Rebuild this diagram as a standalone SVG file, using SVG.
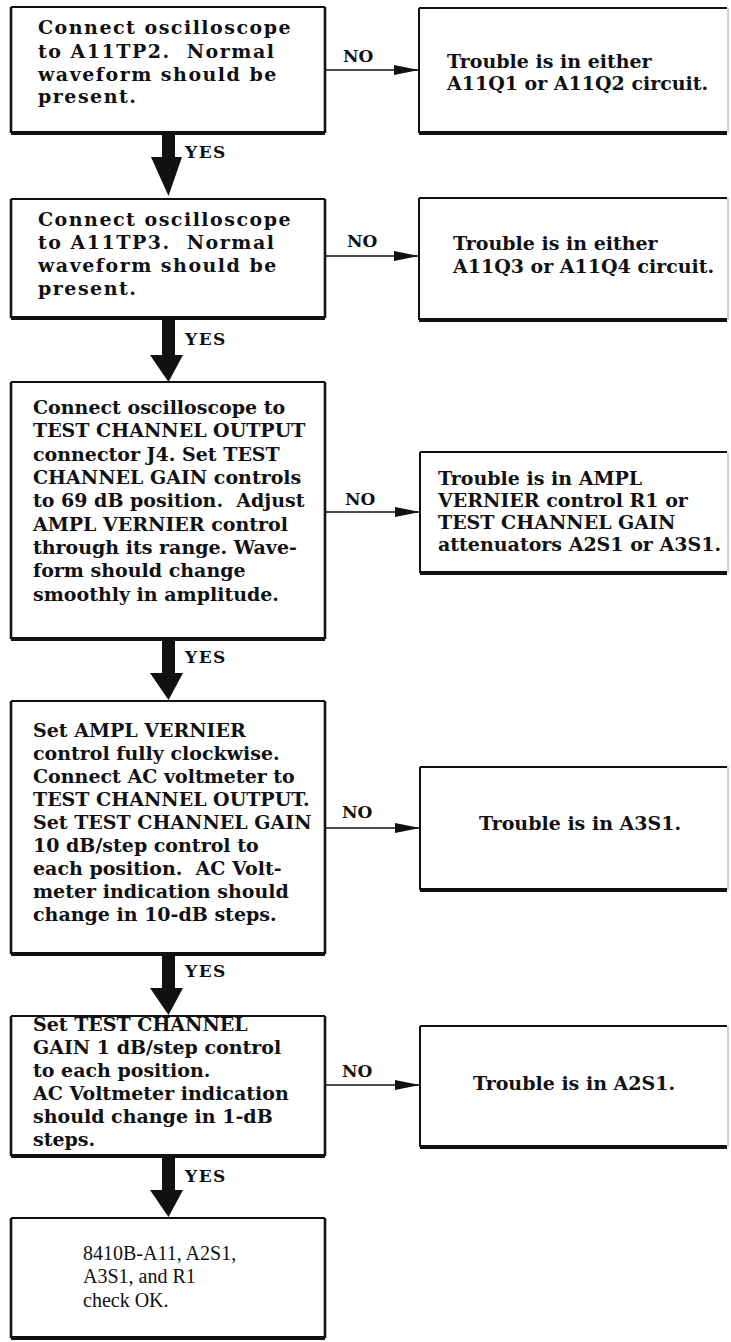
<svg xmlns="http://www.w3.org/2000/svg" width="731" height="1342" viewBox="0 0 731 1342">
<style>
.t{font-family:"DejaVu Serif","Liberation Serif",serif;font-weight:bold;font-size:19px;fill:#111}
.w{letter-spacing:1.5px}
.r{font-family:"Liberation Serif","DejaVu Serif",serif;font-size:20px;fill:#111}
.lbl{font-family:"DejaVu Serif","Liberation Serif",serif;font-weight:bold;font-size:17px;fill:#111}
.ys{letter-spacing:1.5px}
.thin{stroke:#111;stroke-width:2;fill:none}
.mid{stroke:#111;stroke-width:2.6;fill:none}
.thick{stroke:#111;stroke-width:4;fill:none}
.faint{stroke:#aaa;stroke-width:1;fill:none}
.no{stroke:#111;stroke-width:1.6;fill:none;marker-end:url(#head)}
.yes{fill:#111}
</style>
<defs>
<marker id="head" viewBox="0 0 25 12" refX="25" refY="6" markerWidth="25" markerHeight="12" markerUnits="userSpaceOnUse" orient="auto">
<path d="M0,1 L25,6 L0,11 Z" fill="#111"/>
</marker>
</defs>
<rect width="731" height="1342" fill="#fff"/>

<g id="n1">
<path class="thin" d="M11,7 H325"/><path class="mid" d="M11,7 V133"/><path class="mid" d="M325,7 V133"/><path class="thick" d="M11,133 H325"/>
<text class="t w" x="38" y="34">Connect oscilloscope</text>
<text class="t w" x="38" y="58">to A11TP2.&#160; Normal</text>
<text class="t w" x="38" y="81">waveform should be</text>
<text class="t w" x="38" y="103">present.</text>
</g>
<g id="r1">
<path class="thin" d="M419,8 H727"/><path class="thin" d="M419,8 V133"/><path class="faint" d="M728,8 V133"/><path class="thick" d="M419,133 H727"/>
<text class="t" x="447" y="68">Trouble is in either</text>
<text class="t" x="447" y="90">A11Q1 or A11Q2 circuit.</text>
</g>

<g id="n2">
<path class="thin" d="M11,199 H325"/><path class="mid" d="M11,199 V318"/><path class="mid" d="M325,199 V318"/><path class="thick" d="M11,318 H325"/>
<text class="t w" x="38" y="226">Connect oscilloscope</text>
<text class="t w" x="38" y="249">to A11TP3.&#160; Normal</text>
<text class="t w" x="38" y="272">waveform should be</text>
<text class="t w" x="38" y="295">present.</text>
</g>
<g id="r2">
<path class="thin" d="M419,198 H727"/><path class="thin" d="M419,198 V320"/><path class="faint" d="M728,198 V320"/><path class="thick" d="M419,320 H727"/>
<text class="t" x="453" y="250">Trouble is in either</text>
<text class="t" x="453" y="273">A11Q3 or A11Q4 circuit.</text>
</g>

<g id="n3">
<path class="thin" d="M11,382 H325"/><path class="mid" d="M11,382 V639"/><path class="mid" d="M325,382 V639"/><path class="thick" d="M11,639 H325"/>
<text class="t" x="33" y="414">Connect oscilloscope to</text>
<text class="t" x="33" y="437">TEST CHANNEL OUTPUT</text>
<text class="t" x="33" y="461">connector J4. Set TEST</text>
<text class="t" x="33" y="484">CHANNEL GAIN controls</text>
<text class="t" x="33" y="507">to 69 dB position.&#160; Adjust</text>
<text class="t" x="33" y="531">AMPL VERNIER control</text>
<text class="t" x="33" y="554">through its range. Wave-</text>
<text class="t" x="33" y="577">form should change</text>
<text class="t" x="33" y="601">smoothly in amplitude.</text>
</g>
<g id="r3">
<path class="thin" d="M420,452 H727"/><path class="thin" d="M420,452 V573"/><path class="faint" d="M728,452 V573"/><path class="thick" d="M420,573 H727"/>
<text class="t" x="438" y="485">Trouble is in AMPL</text>
<text class="t" x="438" y="507">VERNIER control R1 or</text>
<text class="t" x="438" y="529">TEST CHANNEL GAIN</text>
<text class="t" x="438" y="551">attenuators A2S1 or A3S1.</text>
</g>

<g id="n4">
<path class="thin" d="M11,701 H325"/><path class="mid" d="M11,701 V954"/><path class="mid" d="M325,701 V954"/><path class="thick" d="M11,954 H325"/>
<text class="t" x="33" y="737">Set AMPL VERNIER</text>
<text class="t" x="33" y="760">control fully clockwise.</text>
<text class="t" x="33" y="783">Connect AC voltmeter to</text>
<text class="t" x="33" y="806">TEST CHANNEL OUTPUT.</text>
<text class="t" x="33" y="829">Set TEST CHANNEL GAIN</text>
<text class="t" x="33" y="852">10 dB/step control to</text>
<text class="t" x="33" y="875">each position.&#160; AC Volt-</text>
<text class="t" x="33" y="898">meter indication should</text>
<text class="t" x="33" y="921">change in 10-dB steps.</text>
</g>
<g id="r4">
<path class="thin" d="M420,767 H727"/><path class="thin" d="M420,767 V890"/><path class="faint" d="M728,767 V890"/><path class="thick" d="M420,890 H727"/>
<text class="t" x="580" y="830" text-anchor="middle">Trouble is in A3S1.</text>
</g>

<g id="n5">
<path class="thin" d="M11,1016 H325"/><path class="mid" d="M11,1016 V1156"/><path class="mid" d="M325,1016 V1156"/><path class="thick" d="M11,1156 H325"/>
<text class="t" x="33" y="1031">Set TEST CHANNEL</text>
<text class="t" x="33" y="1054">GAIN 1 dB/step control</text>
<text class="t" x="33" y="1077">to each position.</text>
<text class="t" x="33" y="1100">AC Voltmeter indication</text>
<text class="t" x="33" y="1123">should change in 1-dB</text>
<text class="t" x="33" y="1146">steps.</text>
</g>
<g id="r5">
<path class="thin" d="M420,1026 H727"/><path class="thin" d="M420,1026 V1147"/><path class="faint" d="M728,1026 V1147"/><path class="thick" d="M420,1147 H727"/>
<text class="t" x="574" y="1090" text-anchor="middle">Trouble is in A2S1.</text>
</g>

<g id="n6">
<path class="thin" d="M11,1218 H325"/><path class="mid" d="M11,1218 V1338"/><path class="mid" d="M325,1218 V1338"/><path class="thick" d="M11,1338 H325"/>
<text class="r" x="83" y="1260">8410B-A11, A2S1,</text>
<text class="r" x="83" y="1283">A3S1, and R1</text>
<text class="r" x="83" y="1307">check OK.</text>
</g>

<g id="connectors">
<path class="yes" d="M162,134 H175 V157 H182 L168.5,196 L151,157 H162 Z"/>
<path class="yes" d="M162,319 H175 V355 H183 L168.5,382 L150,355 H162 Z"/>
<path class="yes" d="M162,640 H175 V673 H183 L168.5,700 L150,673 H162 Z"/>
<path class="yes" d="M162,955 H175 V988 H183 L168.5,1015 L150,988 H162 Z"/>
<path class="yes" d="M162,1157 H175 V1190 H183 L168.5,1217 L150,1190 H162 Z"/>
<text class="lbl ys" x="185" y="158">YES</text>
<text class="lbl ys" x="185" y="345">YES</text>
<text class="lbl ys" x="185" y="663">YES</text>
<text class="lbl ys" x="185" y="977">YES</text>
<text class="lbl ys" x="185" y="1182">YES</text>
<path class="no" d="M326,70 H419"/>
<path class="no" d="M326,256 H419"/>
<path class="no" d="M326,512 H420"/>
<path class="no" d="M326,828 H420"/>
<path class="no" d="M326,1085 H420"/>
<text class="lbl" x="343" y="62">NO</text>
<text class="lbl" x="347" y="247">NO</text>
<text class="lbl" x="345" y="505">NO</text>
<text class="lbl" x="342" y="818">NO</text>
<text class="lbl" x="342" y="1077">NO</text>
</g>
</svg>
